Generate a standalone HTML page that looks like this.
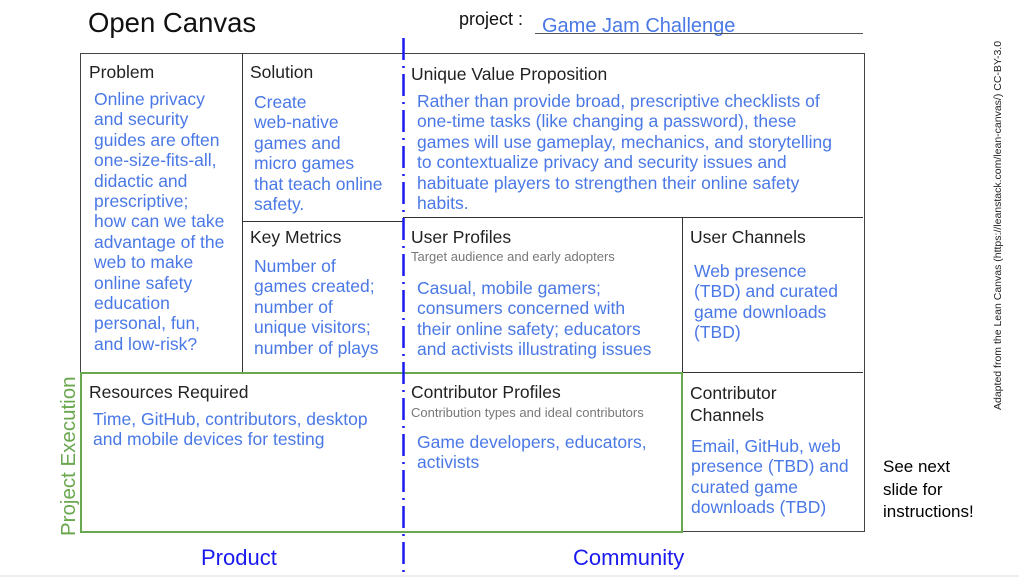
<!DOCTYPE html>
<html><head><meta charset="utf-8"><style>
body{margin:0;width:1019px;height:578px;background:#fff;position:relative;overflow:hidden;font-family:"Liberation Sans",sans-serif}
.a{position:absolute;white-space:nowrap}
.h{font-size:17.5px;color:#222}
.b{font-size:17.5px;color:#4a78e6;line-height:20.4px}
.s{font-size:13px;color:#777}
.l{position:absolute;background:#333}
</style></head><body>
<div class="a" style="left:88px;top:7px;font-size:27.5px;color:#111">Open Canvas</div>
<div class="a" style="left:459px;top:9px;font-size:18px;color:#111">project :</div>
<div class="a" style="left:542px;top:15px;font-size:20px;color:#4a78e6">Game Jam Challenge</div>
<div class="l" style="left:535px;top:33px;width:328px;height:1px;background:#555"></div>

<div style="position:absolute;left:80px;top:53px;width:783px;height:477px;border:1px solid #444"></div>
<div class="l" style="left:242px;top:53px;width:1px;height:320px"></div>
<div class="l" style="left:682px;top:217px;width:1px;height:313px"></div>
<div class="l" style="left:242px;top:221px;width:161px;height:1px"></div>
<div class="l" style="left:403px;top:217px;width:460px;height:1px"></div>
<div class="l" style="left:80px;top:372px;width:783px;height:1px"></div>
<div style="position:absolute;left:80px;top:372px;width:599px;height:157px;border:2px solid #6aa84f"></div>

<svg style="position:absolute;left:0;top:0" width="1019" height="578">
<line x1="403.5" y1="38" x2="403.5" y2="578" stroke="#1a1af0" stroke-width="2.5" stroke-dasharray="22,6,2,6"/>
<line x1="0" y1="576" x2="1019" y2="576" stroke="#ddd" stroke-width="1"/>
</svg>

<div class="a h" style="left:89px;top:62px">Problem</div>
<div class="a b" style="left:94px;top:89px">Online privacy<br>and security<br>guides are often<br>one-size-fits-all,<br>didactic and<br>prescriptive;<br>how can we take<br>advantage of the<br>web to make<br>online safety<br>education<br>personal, fun,<br>and low-risk?</div>

<div class="a h" style="left:250px;top:62px">Solution</div>
<div class="a b" style="left:254px;top:92px">Create<br>web-native<br>games and<br>micro games<br>that teach online<br>safety.</div>

<div class="a h" style="left:411px;top:64px">Unique Value Proposition</div>
<div class="a b" style="left:417px;top:91px">Rather than provide broad, prescriptive checklists of<br>one-time tasks (like changing a password), these<br>games will use gameplay, mechanics, and storytelling<br>to contextualize privacy and security issues and<br>habituate players to strengthen their online safety<br>habits.</div>

<div class="a h" style="left:250px;top:227px">Key Metrics</div>
<div class="a b" style="left:254px;top:256px">Number of<br>games created;<br>number of<br>unique visitors;<br>number of plays</div>

<div class="a h" style="left:411px;top:227px">User Profiles</div>
<div class="a s" style="left:411px;top:249px">Target audience and early adopters</div>
<div class="a b" style="left:417px;top:278px">Casual, mobile gamers;<br>consumers concerned with<br>their online safety; educators<br>and activists illustrating issues</div>

<div class="a h" style="left:690px;top:227px">User Channels</div>
<div class="a b" style="left:694px;top:261px">Web presence<br>(TBD) and curated<br>game downloads<br>(TBD)</div>

<div class="a h" style="left:89px;top:382px">Resources Required</div>
<div class="a b" style="left:93px;top:409px">Time, GitHub, contributors, desktop<br>and mobile devices for testing</div>

<div class="a h" style="left:411px;top:382px">Contributor Profiles</div>
<div class="a s" style="left:411px;top:405px">Contribution types and ideal contributors</div>
<div class="a b" style="left:417px;top:432px">Game developers, educators,<br>activists</div>

<div class="a h" style="left:690px;top:382px;line-height:22px">Contributor<br>Channels</div>
<div class="a b" style="left:691px;top:436px">Email, GitHub, web<br>presence (TBD) and<br>curated game<br>downloads (TBD)</div>

<div class="a" style="left:883px;top:456px;font-size:17px;line-height:22.5px;color:#000">See next<br>slide for<br>instructions!</div>

<div class="a" style="left:201px;top:545px;font-size:22px;color:#1a1af0">Product</div>
<div class="a" style="left:573px;top:545px;font-size:22px;color:#1a1af0">Community</div>

<div class="a" style="left:57px;top:536px;transform:rotate(-90deg);transform-origin:0 0;font-size:20.5px;color:#6aa84f">Project Execution</div>
<div class="a" style="left:992px;top:410px;transform:rotate(-90deg);transform-origin:0 0;font-size:10.5px;color:#222">Adapted from the Lean Canvas (https://leanstack.com/lean-canvas/) CC-BY-3.0</div>
</body></html>
